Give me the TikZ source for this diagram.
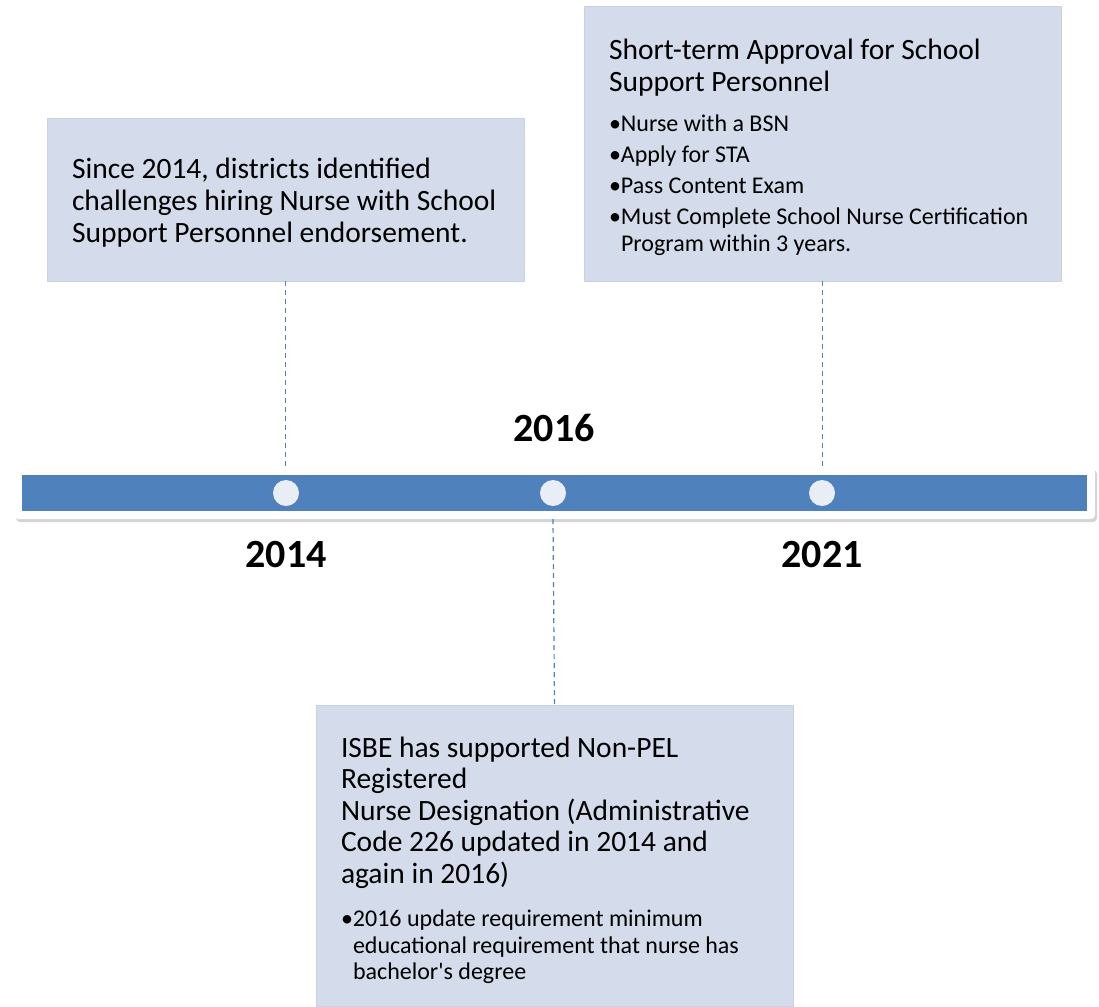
\documentclass[tikz,border=0pt]{standalone}
\usepackage{fontspec}
\setmainfont{Carlito}
\usetikzlibrary{shadows}
\definecolor{barblue}{HTML}{4F81BD}
\definecolor{boxfill}{HTML}{D4DBEA}
\definecolor{boxedge}{HTML}{C9D1E3}
\definecolor{dotfill}{HTML}{E9EEF6}
\newcommand{\bul}[1]{\par\hangindent=12pt\hangafter=1\noindent\makebox[12pt][l]{•}#1}
\tikzset{
  evbox/.style={fill=boxfill,draw=boxedge,line width=0.6pt,minimum width=477pt,
    text width=427pt,inner xsep=25pt,align=left,anchor=center,font=\fontsize{29.5}{32}\selectfont,
    execute at begin node={\spaceskip=0pt\xspaceskip=0pt\hyphenpenalty=10000}},
  yearlab/.style={font=\fontsize{40}{48}\selectfont\bfseries},
  dot/.style={circle,fill=dotfill,minimum size=26pt,inner sep=0pt},
  link/.style={barblue,line width=1.2pt,dash pattern=on 5pt off 4pt}
}
\begin{document}
\begin{tikzpicture}[x=1pt,y=-1pt]
    \useasboundingbox (0,0) rectangle (1099,1006);
    \node [fill=white,rounded corners=4pt,minimum width=1081pt,minimum height=52pt,
      drop shadow={shadow xshift=2pt,shadow yshift=-3pt,opacity=0.35}] (frame) at (554.5,493) {};
    \node [fill=barblue,minimum width=1065pt,minimum height=36pt,inner sep=0pt] (bar) at (554.5,493) {};
    \node [dot] (dot2014) at (286,493) {};
    \node [dot] (dot2016) at (553,493) {};
    \node [dot] (dot2021) at (822,493) {};
    \node [yearlab] (y2014) at (286,555) {2014};
    \node [yearlab] (y2016) at (554,428) {2016};
    \node [yearlab] (y2021) at (822,555) {2021};
    \node [evbox,minimum height=163pt] (box2014) at (285.5,199.5) {\rule{0pt}{26pt}%
      Since 2014, districts identified\\ challenges hiring Nurse with School\\ Support Personnel endorsement.\par};
    \node [evbox,minimum height=275pt] (box2021) at (822.5,143.5) {\rule{0pt}{28pt}%
      Short-term Approval for School\\ Support Personnel\par\vspace{9pt}
      \fontsize{24}{27}\selectfont\parskip=4pt
      \bul{Nurse with a BSN}\bul{Apply for STA}\bul{Pass Content Exam}
      \bul{Must Complete School Nurse Certification\hfil\break Program within 3 years.}\par};
    \node [evbox,minimum height=301pt] (box2016) at (554.5,855.5) {\fontsize{29.5}{31.5}\selectfont\rule{0pt}{30pt}%
      ISBE has supported Non-PEL\\ Registered\\ Nurse Designation (Administrative\\ Code 226 updated in 2014 and\\ again in 2016)\par\vspace{17pt}
      \fontsize{24}{26.5}\selectfont
      \bul{2016 update requirement minimum\hfil\break educational requirement that nurse has\hfil\break bachelor\textquotesingle s degree}\par};
    \draw [link] (box2014.south) -- (box2014.south |- frame.north);
    \draw [link] (box2021.south) -- (box2021.south |- frame.north);
    \draw [link] (dot2016.south |- frame.south) -- (box2016.north);
\end{tikzpicture}
\end{document}
